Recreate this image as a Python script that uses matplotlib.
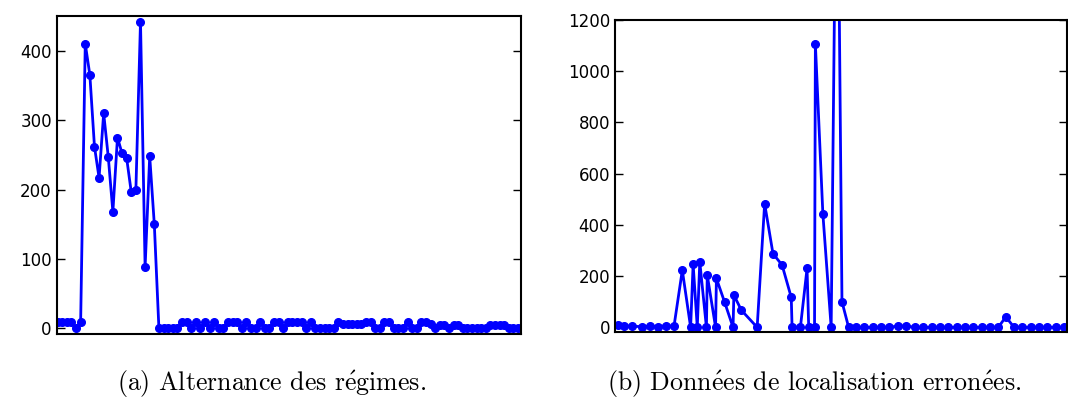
import matplotlib
matplotlib.use("Agg")
import matplotlib.pyplot as plt

# (a) Alternance des regimes : une valeur par pas
regimes = [10, 10, 10, 10, 0, 10, 410, 365, 262, 217, 310, 247, 168, 275, 252,
           245, 196, 200, 442, 88, 248, 150, 0, 0, 0, 0, 0, 10, 10, 0,
           10, 0, 10, 0, 10, 0, 0, 10, 10, 10, 0, 10, 0, 0, 10,
           0, 0, 10, 10, 0, 10, 10, 10, 10, 0, 10, 0, 0, 0, 0,
           0, 10, 7, 7, 7, 7, 7, 10, 10, 0, 0, 10, 10, 0, 0,
           0, 10, 0, 0, 10, 10, 7, 0, 5, 5, 0, 5, 5, 0, 0,
           0, 0, 0, 0, 5, 5, 5, 5, 0, 0, 0]

# (b) Donnees de localisation erronees : instants irreguliers
loc_t = [0.0, 0.7, 1.7, 2.8, 3.8, 4.8, 5.7, 6.7, 7.7, 8.7, 9.0, 9.5, 9.8, 10.6,
         10.7, 11.7, 11.8, 12.8, 13.8, 13.9, 14.8, 16.7, 17.6, 18.6, 19.7, 20.8,
         20.9, 21.9, 22.7, 22.9, 23.6, 23.7, 24.6, 25.6, 26.3, 26.9, 27.7, 28.6,
         29.6, 30.6, 31.6, 32.6, 33.6, 34.6, 35.7, 36.7, 37.7, 38.7, 39.7, 40.7,
         41.7, 42.7, 43.7, 44.7, 45.7, 46.6, 47.6, 48.6, 49.6, 50.6, 51.6, 52.6,
         53.6]
loc_err = [8, 6, 4, 3, 4, 3, 6, 4, 223, 0, 247, 0, 256, 0,
           204, 0, 191, 97, 0, 126, 67, 0, 483, 288, 243, 117,
           0, 0, 230, 0, 0, 1107, 444, 0, 2200, 100, 0, 0,
           0, 0, 0, 0, 5, 5, 0, 0, 0, 0, 0, 0,
           0, 0, 0, 0, 0, 41, 0, 0, 0, 0, 0, 0,
           0]

# accents en mathtext pour rester en Computer Modern
caption_a = r"(a) Alternance des r$\acute{\mathrm{e}}$gimes."
caption_b = r"(b) Donn$\acute{\mathrm{e}}$es de localisation erron$\acute{\mathrm{e}}$es."

plt.rcParams['font.size'] = 12
plt.rcParams['axes.linewidth'] = 1.5
plt.rcParams['mathtext.fontset'] = 'cm'

fig = plt.figure(figsize=(10.68, 3.99), dpi=100)
ax1 = fig.add_axes([0.0531, 0.1629, 0.4345, 0.797])
ax2 = fig.add_axes([0.5758, 0.1687, 0.4228, 0.7812])

ax1.plot(range(len(regimes)), regimes, color='blue', lw=2, marker='o', ms=5.5,
         mec='blue')
ax1.set_xlim(-0.2, 100.6)
ax1.set_ylim(-8, 450)
ax1.set_yticks([0, 100, 200, 300, 400])

ax2.plot(loc_t, loc_err, color='blue', lw=2, marker='o', ms=5.5, mec='blue')
ax2.set_xlim(-0.4, 53.9)
ax2.set_ylim(-17, 1200)
ax2.set_yticks([0, 200, 400, 600, 800, 1000, 1200])

for ax in (ax1, ax2):
    ax.set_xticks([])
    ax.tick_params(axis='y', direction='in', right=True, length=6, width=1,
                   labelsize=12)

fig.text(271.5 / 1068, 0.036, caption_a, ha='center', va='center',
         fontsize=18.6, family=['cmr10', 'DejaVu Serif'])
fig.text(814 / 1068, 0.036, caption_b, ha='center', va='center',
         fontsize=18.6, family=['cmr10', 'DejaVu Serif'])

fig.savefig("out.png", dpi=100)
